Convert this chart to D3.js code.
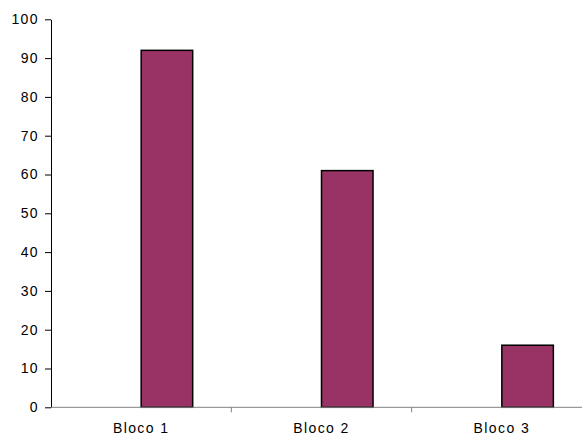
<!DOCTYPE html>
<html>
<head>
<meta charset="utf-8">
<script src="https://cdn.jsdelivr.net/npm/d3@7"></script>
<style>
  html, body { margin: 0; padding: 0; background: #fff; }
  svg { display: block; }
  text { font-family: "Liberation Sans", Arial, sans-serif; font-size: 14px; fill: #000; letter-spacing: 1.4px; }
</style>
</head>
<body>
<svg id="chart" width="582" height="435"></svg>
<script>
// Categories and values
const categories = ["Bloco 1", "Bloco 2", "Bloco 3"];
const values = [92, 61, 16];
const yTicks = [0, 10, 20, 30, 40, 50, 60, 70, 80, 90, 100];

const svg = d3.select("#chart");
const plot = { left: 51, right: 592, top: 19.3, bottom: 407.3 };

const x = d3.scaleBand().domain(categories).range([plot.left, plot.right]).padding(0);
// Two slots per category (an empty leading slot, then the visible bar)
const slot = d3.scaleBand().domain(["vazio", "valor"]).range([0, x.bandwidth()])
  .paddingInner(0).paddingOuter(0.75);
const y = d3.scaleLinear().domain([0, 100]).range([plot.bottom, plot.top]);

// Bars
svg.append("g").selectAll("rect")
  .data(categories.map((c, i) => ({ c, v: values[i] })))
  .join("rect")
  .attr("x", d => x(d.c) + slot("valor"))
  .attr("y", d => y(d.v))
  .attr("width", slot.bandwidth())
  .attr("height", d => y(0) - y(d.v))
  .attr("fill", "#993366")
  .attr("stroke", "#000")
  .attr("stroke-width", 1.5);

// Y axis
const yAxis = svg.append("g")
  .attr("transform", `translate(${plot.left},0)`)
  .call(d3.axisLeft(y).tickValues(yTicks).tickSize(6).tickSizeOuter(0).tickPadding(6));
yAxis.select(".domain").attr("stroke", "#000").attr("stroke-width", 1);
yAxis.selectAll(".tick line").attr("stroke", "#000");
yAxis.selectAll(".tick text")
  .style("font-size", "14px")
  .style("font-family", "Liberation Sans, Arial, sans-serif")
  .attr("fill", "#000");

// X axis: ticks at the category boundaries
const xAxisG = svg.append("g").attr("transform", `translate(0,${plot.bottom})`);
xAxisG.append("line")
  .attr("x1", plot.left).attr("x2", plot.right)
  .attr("stroke", "#808080").attr("stroke-width", 1);
xAxisG.selectAll("line.sep")
  .data(categories.slice(1))
  .join("line")
  .attr("class", "sep")
  .attr("x1", d => x(d)).attr("x2", d => x(d))
  .attr("y1", 0).attr("y2", 5)
  .attr("stroke", "#808080");
xAxisG.selectAll("text")
  .data(categories)
  .join("text")
  .attr("x", d => x(d) + x.bandwidth() / 2)
  .attr("y", 25.5)
  .attr("text-anchor", "middle")
  .text(d => d);
</script>
</body>
</html>
